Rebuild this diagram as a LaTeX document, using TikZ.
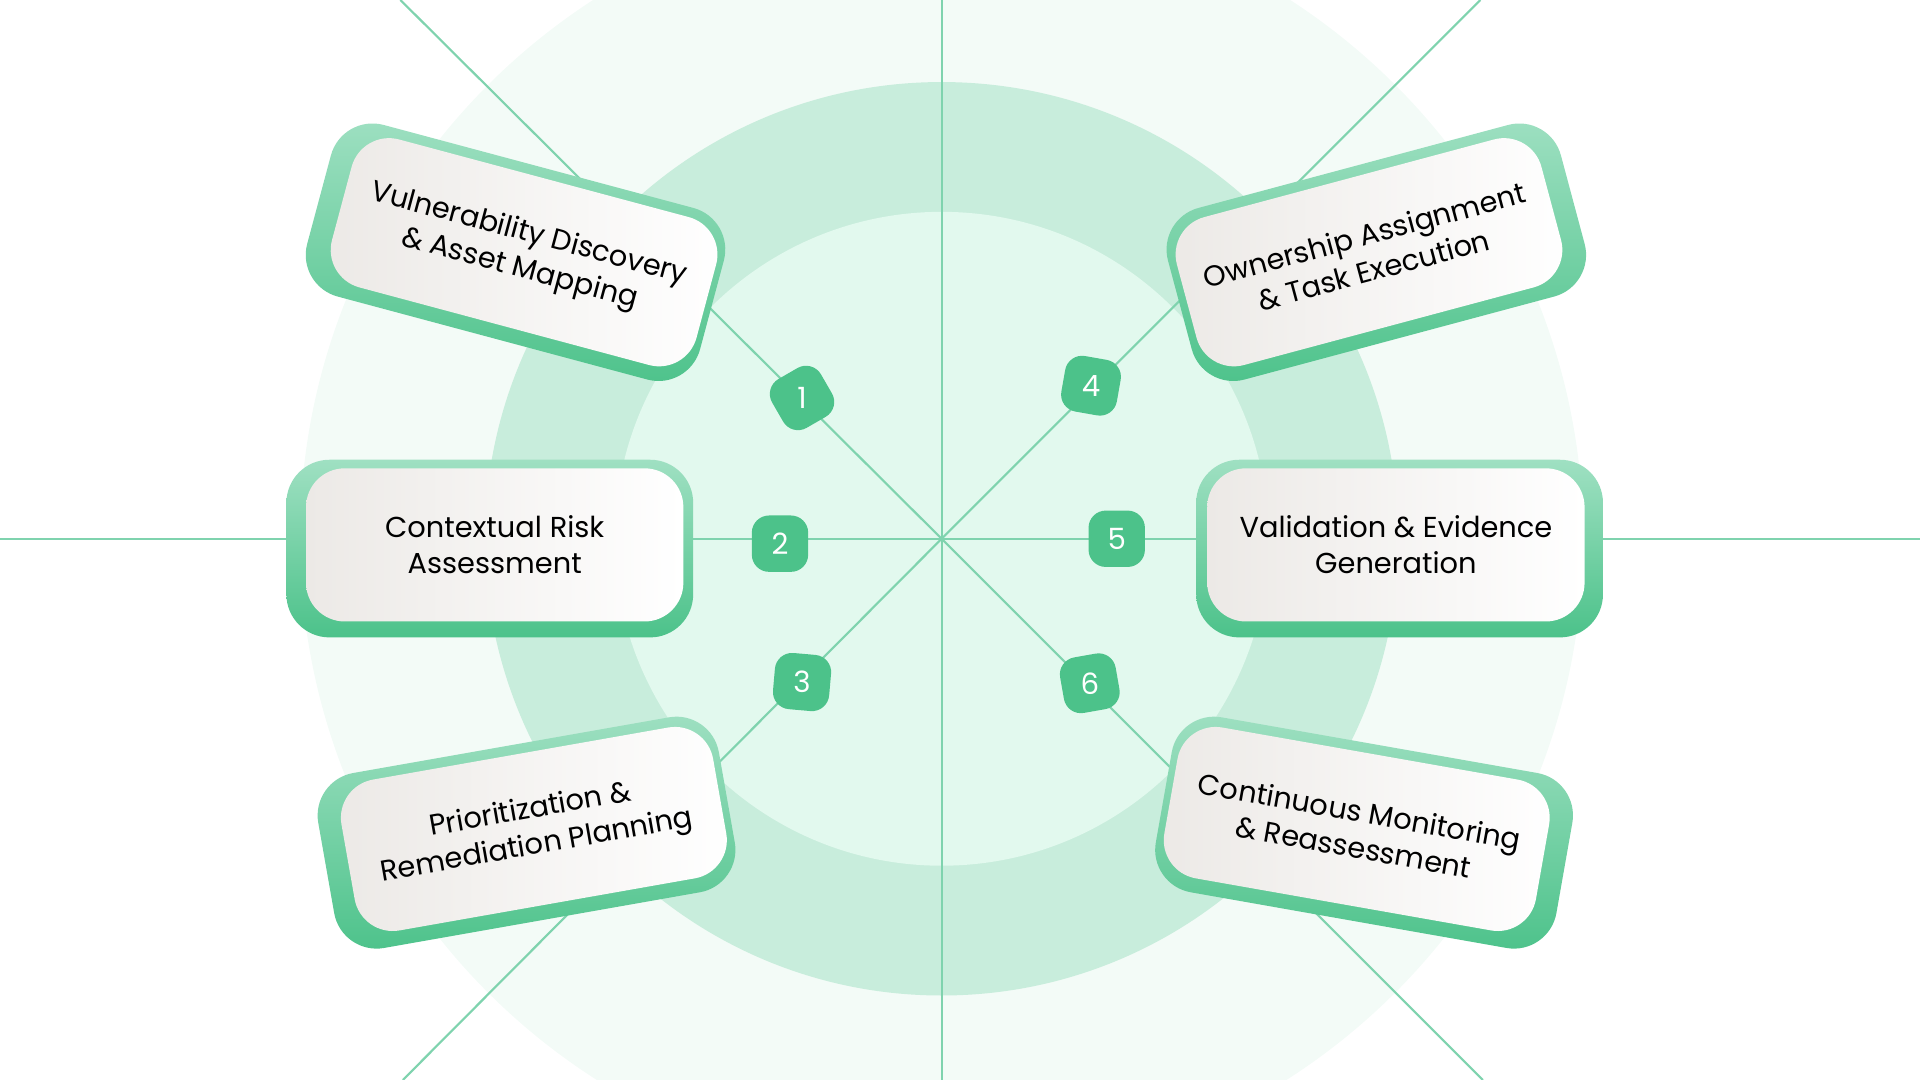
\documentclass[tikz,border=0pt]{standalone}
\usepackage{fontspec}
\setmainfont{Poppins}
\usetikzlibrary{positioning}
\definecolor{ringa}{HTML}{F3FBF7}
\definecolor{ringb}{HTML}{C8EDDC}
\definecolor{ringc}{HTML}{E2F9EE}
\definecolor{spoke}{HTML}{7FD3AE}
\definecolor{mint}{HTML}{4CC28A}
\definecolor{mintlight}{HTML}{9FE0C2}
\definecolor{cardgray}{HTML}{ECE9E6}
\tikzset{
  card/.style={rounded corners=9pt, minimum width=3.08cm, minimum height=1.25cm,
    align=center, font=\fontsize{6.7}{8.4}\selectfont, text=black,
    left color=cardgray, right color=white},
  cardback/.style={rounded corners=10pt, minimum width=3.32cm, minimum height=1.45cm,
    top color=mintlight, bottom color=mint},
  badge/.style={rounded corners=4pt, minimum size=0.46cm, fill=mint, text=white,
    font=\fontsize{6.8}{9}\selectfont, inner sep=0pt},
  spokeline/.style={draw=spoke, line width=0.5pt}
}
\begin{document}
\begin{tikzpicture}[x=0.01cm, y=-0.01cm]
    \useasboundingbox (0,0) rectangle (1568,882);
    \clip (0,0) rectangle (1568,882);
    % rings
    \fill[ringa] (769,440) circle (524*0.01cm);
    \fill[ringb] (769,440) circle (373*0.01cm);
    \fill[ringc] (769,440) circle (267*0.01cm);
    % spokes
    \coordinate (c) at (769,440);
    \coordinate (n) at (769,0);
    \coordinate (s) at (769,882);
    \coordinate (w) at (0,440);
    \coordinate (e) at (1568,440);
    \coordinate (nw) at (327,0);
    \coordinate (ne) at (1209,0);
    \coordinate (sw) at (329,882);
    \coordinate (se) at (1211,882);
    \foreach \p in {n,s,w,e,nw,ne,sw,se}
        \draw[spokeline] (c) -- (\p);
    % cards
    \node[cardback, rotate=-15] (b1) at (421,206) {};
    \node[card, rotate=-15] (k1) at (428,206) {Vulnerability Discovery\\\& Asset Mapping};
    \node[cardback] (b2) at (400,448) {};
    \node[card] (k2) at (404,445) {Contextual Risk\\Assessment};
    \node[cardback, rotate=10] (b3) at (430,680) {};
    \node[card, rotate=10] (k3) at (436,677) {Prioritization \&\\Remediation Planning};
    \node[cardback, rotate=15] (b4) at (1124,206) {};
    \node[card, rotate=15] (k4) at (1118,206) {Ownership Assignment\\\& Task Execution};
    \node[cardback] (b5) at (1143,448) {};
    \node[card] (k5) at (1140,445) {Validation \& Evidence\\Generation};
    \node[cardback, rotate=-10] (b6) at (1114,680) {};
    \node[card, rotate=-10] (k6) at (1108,677) {Continuous Monitoring\\\& Reassessment};
    % badges
    \node[badge, rotate=30] (n1) at (655,325) {\rotatebox{-30}{1}};
    \node[badge] (n2) at (637,444) {2};
    \node[badge, rotate=-5] (n3) at (655,557) {\rotatebox{5}{3}};
    \node[badge, rotate=-10] (n4) at (891,315) {\rotatebox{10}{4}};
    \node[badge] (n5) at (912,440) {5};
    \node[badge, rotate=10] (n6) at (890,558) {\rotatebox{-10}{6}};
\end{tikzpicture}
\end{document}
